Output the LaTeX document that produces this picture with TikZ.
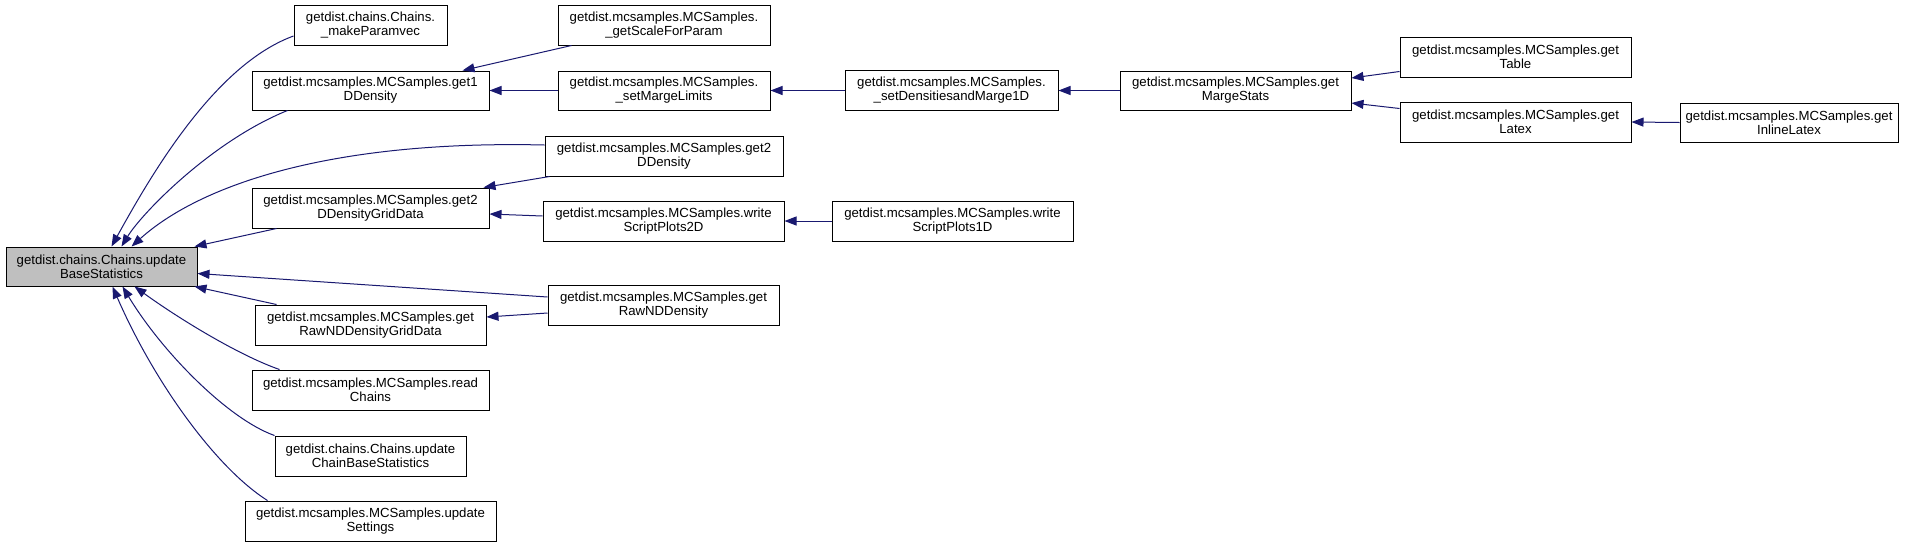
\documentclass[tikz,border=0pt]{standalone}
\usepackage{fontspec}
\setmainfont{Liberation Sans}
\usetikzlibrary{arrows.meta,calc}
\definecolor{edgeblue}{HTML}{191970}
\definecolor{hlgray}{HTML}{BFBFBF}
\begin{document}
\begin{tikzpicture}[x=1pt,y=-1pt,
  nbox/.style={draw=black, line width=1pt, fill=white, align=center, inner sep=0pt,
    minimum height=40pt, font=\fontsize{13.2}{14}\selectfont},
  conn/.style={draw=edgeblue, line width=1pt, -{Triangle[length=12pt,width=9pt]}}]
\useasboundingbox[fill=white] (0,0) rectangle (1917,547);
% column 0
\node[nbox, fill=hlgray, minimum width=191pt, minimum height=39pt] (base) at (101.5,266.5) {getdist.chains.Chains.update\\BaseStatistics};
% column 1
\node[nbox, minimum width=153pt] (makeP) at (370.5,25) {getdist.chains.Chains.\\\_makeParamvec};
\node[nbox, minimum width=237pt, minimum height=39pt] (get1D) at (370.5,90.5) {getdist.mcsamples.MCSamples.get1\\DDensity};
\node[nbox, minimum width=237pt] (g2grid) at (370.5,208) {getdist.mcsamples.MCSamples.get2\\DDensityGridData};
\node[nbox, minimum width=231pt] (rawgrid) at (370.5,325) {getdist.mcsamples.MCSamples.get\\RawNDDensityGridData};
\node[nbox, minimum width=237pt] (readC) at (370.5,390) {getdist.mcsamples.MCSamples.read\\Chains};
\node[nbox, minimum width=191pt] (updChain) at (370.5,456) {getdist.chains.Chains.update\\ChainBaseStatistics};
\node[nbox, minimum width=251pt] (updSet) at (370.5,521) {getdist.mcsamples.MCSamples.update\\Settings};
% column 2
\node[nbox, minimum width=212pt] (getScale) at (664,25) {getdist.mcsamples.MCSamples.\\\_getScaleForParam};
\node[nbox, minimum width=212pt, minimum height=39pt] (setMarge) at (664,90.5) {getdist.mcsamples.MCSamples.\\\_setMargeLimits};
\node[nbox, minimum width=238pt] (get2D) at (664,156) {getdist.mcsamples.MCSamples.get2\\DDensity};
\node[nbox, minimum width=241pt] (wsp2) at (663.5,221) {getdist.mcsamples.MCSamples.write\\ScriptPlots2D};
\node[nbox, minimum width=231pt] (rawND) at (663.5,305) {getdist.mcsamples.MCSamples.get\\RawNDDensity};
% column 3
\node[nbox, minimum width=213pt] (setDens) at (951.5,90.5) {getdist.mcsamples.MCSamples.\\\_setDensitiesandMarge1D};
\node[nbox, minimum width=241pt] (wsp1) at (952.5,221) {getdist.mcsamples.MCSamples.write\\ScriptPlots1D};
% column 4
\node[nbox, minimum width=231pt, minimum height=39pt] (marge) at (1235.5,90.5) {getdist.mcsamples.MCSamples.get\\MargeStats};
% column 5
\node[nbox, minimum width=231pt] (table) at (1515.5,57) {getdist.mcsamples.MCSamples.get\\Table};
\node[nbox, minimum width=231pt] (latex) at (1515.5,122) {getdist.mcsamples.MCSamples.get\\Latex};
% column 6
\node[nbox, minimum width=218pt, minimum height=39pt] (inline) at (1789,122.5) {getdist.mcsamples.MCSamples.get\\InlineLatex};

% edges into base
\draw[conn] ($(makeP.west)+(0,11)$) .. controls (214,65) and (150,177) .. ($(base.north west)+(106,0)$);
\draw[conn] ($(get1D.south west)+(36,0)$) .. controls (212,141) and (142,213) .. ($(base.north west)+(116,0)$);
\draw[conn] ($(get2D.west)+(0,-11)$) .. controls (330,140) and (200,185) .. ($(base.north west)+(126,0)$);
\draw[conn] ($(g2grid.south west)+(25,0)$) -- ($(base.north east)+(-3,0)$);
\draw[conn] ($(rawND.west)+(0,-8)$) -- ($(base.east)+(0,7)$);
\draw[conn] ($(rawgrid.north west)+(22,0)$) -- ($(base.south east)+(-3,0)$);
\draw[conn] ($(readC.north west)+(28,0)$) .. controls (238,355) and (178,318) .. ($(base.south west)+(129,0)$);
\draw[conn] (updChain.north west) .. controls (228,419) and (162,352) .. ($(base.south west)+(117,0)$);
\draw[conn] ($(updSet.north west)+(23,0)$) .. controls (216,468) and (154,382) .. ($(base.south west)+(107,0)$);
% edges into get1D
\draw[conn] ($(getScale.south west)+(14,0)$) -- ($(get1D.north east)+(-27,0)$);
\draw[conn] (setMarge.west) -- (get1D.east);
\draw[conn] (setDens.west) -- (setMarge.east);
\draw[conn] (marge.west) -- (setDens.east);
\draw[conn] ($(table.south west)+(0,-6)$) -- ($(marge.east)+(0,-12.5)$);
\draw[conn] ($(latex.north west)+(0,7)$) -- ($(marge.east)+(0,12.5)$);
\draw[conn] (inline.west) -- (latex.east);
% edges into g2grid
\draw[conn] ($(get2D.south west)+(5,0)$) -- ($(g2grid.north east)+(-6,0)$);
\draw[conn] ($(wsp2.west)+(0,-5)$) -- ($(g2grid.east)+(0,6)$);
\draw[conn] (wsp1.west) -- (wsp2.east);
% edges into rawgrid
\draw[conn] ($(rawND.west)+(0,8)$) -- ($(rawgrid.east)+(0,-8)$);
\end{tikzpicture}
\end{document}
